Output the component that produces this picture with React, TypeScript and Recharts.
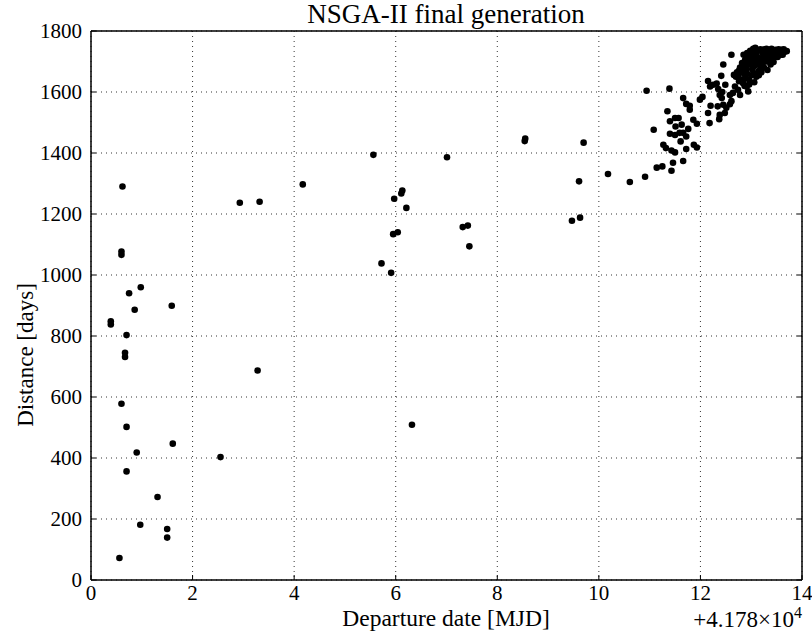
import React from 'react';
import { ScatterChart, Scatter, XAxis, YAxis, CartesianGrid } from 'recharts';

const titleText = 'NSGA-II final generation';
const xLabel = 'Departure date [MJD]';
const yLabel = 'Distance [days]';
const offsetBase = '+4.178×10';
const offsetExp = '4';

const xTicks = [0, 2, 4, 6, 8, 10, 12, 14];
const yTicks = [0, 200, 400, 600, 800, 1000, 1200, 1400, 1600, 1800];

const earlyPoints: [number, number][] = [
  [0.39, 848], [0.39, 838], [0.56, 72], [0.6, 578], [0.6, 1077], [0.6, 1066], [0.62, 1290],
  [0.67, 745], [0.67, 731], [0.7, 803], [0.7, 502], [0.7, 356], [0.75, 940], [0.86, 886],
  [0.9, 418], [0.97, 181], [0.98, 960], [1.31, 272], [1.5, 167], [1.5, 139], [1.59, 899],
  [1.61, 447], [2.55, 403], [2.93, 1237], [3.28, 687], [3.32, 1240], [4.17, 1297],
];

const midPoints: [number, number][] = [
  [5.56, 1394], [5.72, 1038], [5.91, 1007], [5.95, 1134], [6.04, 1140], [5.97, 1250],
  [6.11, 1267], [6.13, 1277], [6.21, 1220], [6.32, 509], [7.01, 1386], [7.32, 1157],
  [7.42, 1162], [7.45, 1094], [8.54, 1439], [8.55, 1447], [9.47, 1178], [9.63, 1188],
  [9.61, 1307], [9.7, 1434],
];

const frontPoints: [number, number][] = [
  [10.18, 1331], [10.61, 1305], [10.91, 1322], [10.94, 1604], [11.08, 1476], [11.14, 1352],
  [11.25, 1356], [11.43, 1342], [11.46, 1368], [11.66, 1374], [11.27, 1427], [11.32, 1416],
  [11.43, 1408], [11.5, 1402], [11.61, 1438], [11.72, 1413], [11.87, 1427], [11.93, 1418],
  [11.35, 1537], [11.39, 1611], [11.4, 1504], [11.4, 1463], [11.5, 1459], [11.5, 1515],
  [11.57, 1515], [11.51, 1487], [11.63, 1493], [11.59, 1466], [11.66, 1466], [11.72, 1454],
  [11.76, 1479], [11.66, 1580], [11.72, 1561], [11.79, 1555], [11.79, 1542], [11.86, 1509],
  [11.93, 1496], [11.99, 1575], [12.04, 1584], [12.15, 1531], [12.18, 1498], [12.2, 1555],
  [12.34, 1553], [12.45, 1558], [12.38, 1525], [12.37, 1511], [12.48, 1531], [12.51, 1548],
  [12.58, 1560], [12.61, 1570], [12.38, 1590], [12.42, 1580], [12.35, 1610], [12.43, 1600],
  [12.19, 1618], [12.25, 1624], [12.32, 1628], [12.15, 1636], [12.41, 1653], [12.45, 1690],
  [12.49, 1624], [12.58, 1590], [12.64, 1597], [12.68, 1618], [12.74, 1607], [12.78, 1590],
  [12.61, 1722], [12.85, 1722], [12.66, 1656], [12.76, 1670], [12.81, 1641], [12.84, 1629],
  [12.91, 1618], [12.94, 1602],
];

const clusterPoints: [number, number][] = [
  [12.7, 1650], [12.72, 1665], [12.78, 1680], [12.82, 1695], [12.88, 1705], [12.9, 1690],
  [12.95, 1720], [12.98, 1735], [13.02, 1728], [12.92, 1660], [12.88, 1645], [12.96, 1640],
  [13.0, 1655], [13.02, 1675], [13.05, 1700], [13.08, 1715], [13.12, 1735], [13.1, 1650],
  [13.14, 1668], [13.16, 1690], [13.2, 1710], [13.22, 1728], [13.26, 1740], [13.2, 1665],
  [13.25, 1680], [13.3, 1700], [13.33, 1720], [13.36, 1735], [13.32, 1672], [13.38, 1690],
  [13.42, 1708], [13.45, 1725], [13.48, 1738], [13.44, 1698], [13.52, 1715], [13.56, 1730],
  [13.6, 1738], [13.62, 1722], [13.66, 1732], [13.7, 1734], [12.98, 1690], [13.06, 1632],
  [12.76, 1635], [12.86, 1660], [13.12, 1700], [13.28, 1715], [13.4, 1728],
  [12.74, 1650], [12.8, 1665], [12.84, 1680], [12.9, 1675], [12.94, 1700], [12.98, 1712],
  [13.04, 1742], [13.0, 1700], [13.06, 1685], [13.1, 1725], [13.14, 1712], [13.18, 1740],
  [13.18, 1678], [13.24, 1700], [13.28, 1732], [13.3, 1742], [13.35, 1705], [13.4, 1742],
  [13.46, 1715], [13.5, 1728], [13.54, 1740], [13.58, 1722], [13.64, 1740], [13.05, 1660],
  [13.15, 1655], [12.96, 1625], [12.87, 1620], [13.08, 1745], [12.92, 1728], [13.22, 1690],
];

const allPoints = [...earlyPoints, ...midPoints, ...frontPoints, ...clusterPoints].map(
  ([x, y]) => ({ x, y })
);

const FONT = '"Liberation Serif", "DejaVu Serif", serif';
const TICK_FS = 21;
const TICK_LEN = 5;
const serifStyle = { fontFamily: FONT };

const BottomTick = (props: any) => {
  const { x, y, payload } = props;
  return (
    <g>
      <line x1={x} x2={x} y1={y} y2={y - TICK_LEN} stroke="#000" strokeWidth={1} />
      <text x={x} y={y + 20} textAnchor="middle" style={serifStyle} fontFamily={FONT} fontSize={TICK_FS} fill="#000">
        {payload.value}
      </text>
    </g>
  );
};

const TopTick = (props: any) => {
  const { x, y } = props;
  return <line x1={x} x2={x} y1={y} y2={y + TICK_LEN} stroke="#000" strokeWidth={1} />;
};

const LeftTick = (props: any) => {
  const { x, y, payload } = props;
  return (
    <g>
      <line x1={x} x2={x + TICK_LEN} y1={y} y2={y} stroke="#000" strokeWidth={1} />
      <text x={x - 9} y={y + 7} textAnchor="end" style={serifStyle} fontFamily={FONT} fontSize={TICK_FS} fill="#000">
        {payload.value}
      </text>
    </g>
  );
};

const RightTick = (props: any) => {
  const { x, y } = props;
  return <line x1={x} x2={x - TICK_LEN} y1={y} y2={y} stroke="#000" strokeWidth={1} />;
};

const Dot = (props: any) => <circle cx={props.cx} cy={props.cy} r={3.3} fill="#000" />;

const axisLine = { stroke: '#000', strokeWidth: 1.5 };

export default function App() {
  return (
    <div style={{ position: 'absolute', left: 0, top: 0, width: 812, height: 634, background: '#fff', fontFamily: FONT }}>
      <ScatterChart
        width={812}
        height={634}
        margin={{ top: 26, right: 5, bottom: 24, left: 31 }}
        style={serifStyle}
      >
        <CartesianGrid
          xAxisId="b"
          yAxisId="l"
          stroke="#000"
          strokeWidth={0.8}
          strokeDasharray="1 4"
        />
        <XAxis
          xAxisId="b"
          dataKey="x"
          type="number"
          domain={[0, 14]}
          ticks={xTicks}
          height={30}
          tickSize={0}
          tickMargin={0}
          tick={BottomTick}
          tickLine={false}
          axisLine={axisLine}
          allowDataOverflow
          interval={0}
        />
        <XAxis
          xAxisId="t"
          orientation="top"
          type="number"
          domain={[0, 14]}
          ticks={xTicks}
          height={5}
          tickSize={0}
          tickMargin={0}
          tick={TopTick}
          tickLine={false}
          axisLine={axisLine}
          allowDataOverflow
          interval={0}
        />
        <YAxis
          yAxisId="l"
          dataKey="y"
          type="number"
          domain={[0, 1800]}
          ticks={yTicks}
          width={60}
          tickSize={0}
          tickMargin={0}
          tick={LeftTick}
          tickLine={false}
          axisLine={axisLine}
          allowDataOverflow
          interval={0}
        />
        <YAxis
          yAxisId="r"
          orientation="right"
          type="number"
          domain={[0, 1800]}
          ticks={yTicks}
          width={5}
          tickSize={0}
          tickMargin={0}
          tick={RightTick}
          tickLine={false}
          axisLine={axisLine}
          allowDataOverflow
          interval={0}
        />
        <Scatter
          xAxisId="b"
          yAxisId="l"
          data={allPoints}
          shape={Dot}
          isAnimationActive={false}
        />
      </ScatterChart>
      <svg
        width={812}
        height={634}
        style={{ position: 'absolute', left: 0, top: 0, pointerEvents: 'none' }}
      >
        <text x={446} y={23} textAnchor="middle" fontFamily={FONT} fontSize={27} fill="#000">
          {titleText}
        </text>
        <text x={446} y={626} textAnchor="middle" fontFamily={FONT} fontSize={23.5} fill="#000">
          {xLabel}
        </text>
        <text
          x={33}
          y={355}
          textAnchor="middle"
          fontFamily={FONT}
          fontSize={23}
          fill="#000"
          transform="rotate(-90 33 355)"
        >
          {yLabel}
        </text>
        <text x={802} y={627} textAnchor="end" fontFamily={FONT} fontSize={23} fill="#000">
          {offsetBase}
          <tspan dy={-9} fontSize={16}>{offsetExp}</tspan>
        </text>
      </svg>
    </div>
  );
}
